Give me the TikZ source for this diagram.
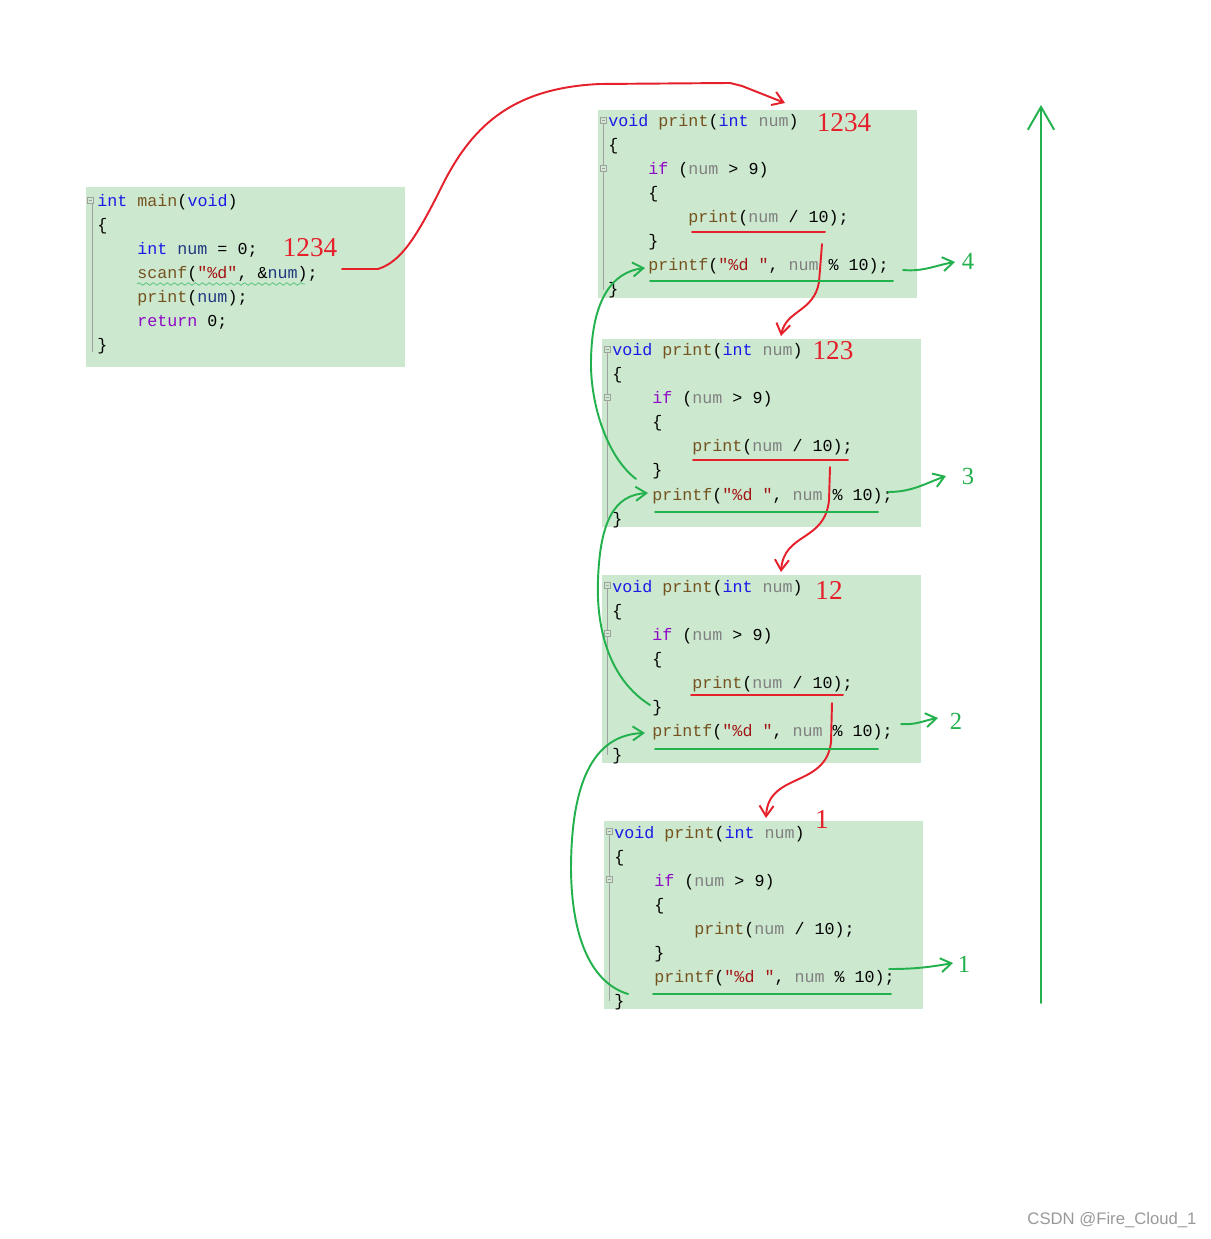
\documentclass[tikz,border=0pt]{standalone}
\usepackage{fontspec}
\setmainfont{Liberation Serif}
\setsansfont{Liberation Sans}
\setmonofont{Liberation Mono}
\usepackage{tikz}
\usetikzlibrary{arrows.meta,decorations.pathmorphing}
\definecolor{CodeBg}{HTML}{CCE8CF}
\definecolor{KeyBlue}{HTML}{1A1AE6}
\definecolor{FuncBrown}{HTML}{74531F}
\definecolor{CtrlPurple}{HTML}{8F08C4}
\definecolor{ParamGray}{HTML}{808080}
\definecolor{VarNavy}{HTML}{1F377F}
\definecolor{StrRed}{HTML}{A31515}
\definecolor{PenRed}{HTML}{E5202A}
\definecolor{PenGreen}{HTML}{22B14C}
\definecolor{MarkGray}{HTML}{A0A0A0}

\newcommand{\kw}[1]{\textcolor{KeyBlue}{#1}}
\newcommand{\fn}[1]{\textcolor{FuncBrown}{#1}}
\newcommand{\ctl}[1]{\textcolor{CtrlPurple}{#1}}
\newcommand{\prm}[1]{\textcolor{ParamGray}{#1}}
\newcommand{\vr}[1]{\textcolor{VarNavy}{#1}}
\newcommand{\strlit}[1]{\textcolor{StrRed}{#1}}

% fold marker of the editor gutter
\newcommand{\foldmark}[2]{%
  \draw[fold, fill=CodeBg] ({#1-3},{#2-3}) rectangle ({#1+3},{#2+3});
  \draw[fold] ({#1-1.5},#2) -- ({#1+1.5},#2);
}

% one call of print(): id, x, y of the top left corner
\newcommand{\callframe}[3]{%
  \node[codebg] (#1) at (#2,#3) {};
  \draw[fold] ({#2+5},{#3+14}) -- ({#2+5},{#3+180});
  \foldmark{#2+5}{#3+10}
  \foldmark{#2+5}{#3+58}
  \node[code] (#1-l1) at ({#2+10},{#3+17}) {\kw{void} \fn{print}(\kw{int} \prm{num})};
  \node[code] (#1-l2) at ({#2+10},{#3+41}) {\{};
  \node[code] (#1-l3) at ({#2+50},{#3+65}) {\ctl{if} (\prm{num} > 9)};
  \node[code] (#1-l4) at ({#2+50},{#3+89}) {\{};
  \node[code] (#1-l5) at ({#2+90},{#3+113}) {\fn{print}(\prm{num} / 10);};
  \node[code] (#1-l6) at ({#2+50},{#3+137}) {\}};
  \node[code] (#1-l7) at ({#2+50},{#3+161}) {\fn{printf}(\strlit{"\%d "}, \prm{num} \% 10);};
  \node[code] (#1-l8) at ({#2+10},{#3+185}) {\}};
}

\begin{document}
\begin{tikzpicture}[
  x=0.02cm, y=-0.02cm,
  codebg/.style={fill=CodeBg, anchor=north west, inner sep=0, minimum width=6.38cm, minimum height=3.76cm},
  code/.style={anchor=base west, inner sep=0, font=\ttfamily\fontsize{9.5}{11}\selectfont},
  fold/.style={draw=MarkGray, line width=0.4pt},
  redpen/.style={draw=PenRed, line width=1.1pt, line cap=round, line join=round},
  greenpen/.style={draw=PenGreen, line width=1.1pt, line cap=round, line join=round},
  tip/.style={-{Straight Barb[length=6pt,width=8pt]}},
  rednum/.style={text=PenRed, font=\fontsize{15.5}{18}\selectfont, inner sep=0},
  greennum/.style={text=PenGreen, font=\fontsize{14}{16}\selectfont, inner sep=0}
]
\path[use as bounding box, fill=white] (0,0) rectangle (1210,1239);

% main()
\node[codebg, minimum height=3.6cm] (mainbox) at (86,187) {};
\draw[fold] (92,204) -- (92,352);
\foldmark{90}{200}
\node[code] (main-l1) at (97,207) {\kw{int} \fn{main}(\kw{void})};
\node[code] (main-l2) at (97,231) {\{};
\node[code] (main-l3) at (137,255) {\kw{int} \vr{num} = 0;};
\node[code] (main-l4) at (137,279) {\fn{scanf}(\strlit{"\%d"}, \&\vr{num});};
\node[code] (main-l5) at (137,303) {\fn{print}(\vr{num});};
\node[code] (main-l6) at (137,327) {\ctl{return} 0;};
\node[code] (main-l7) at (97,351) {\}};
\draw[draw=PenGreen!70, line width=0.5pt, decorate, decoration={snake, segment length=4pt, amplitude=0.7pt}] (137,284) -- (305,284);

% the four calls
\callframe{call1}{598}{110}
\callframe{call2}{602}{339}
\callframe{call3}{602}{575}
\callframe{call4}{604}{821}

% values of num
\node[rednum] (val0) at (310,248) {1234};
\node[rednum] (val1) at (844,123) {1234};
\node[rednum] (val2) at (833,351) {123};
\node[rednum] (val3) at (829,590) {12};
\node[rednum] (val4) at (822,820) {1};

% recursion going down
\coordinate (readEnd) at (342,269);
\coordinate (in1) at (785,103);
\draw[redpen, tip] (readEnd) -- (378,269) .. controls (400,262) and (415,240) .. (440,190)
  .. controls (470,128) and (510,88) .. (600,84) -- (730,83) -- (742,86) -- (in1);

\coordinate (down1) at (822,244);
\coordinate (in2) at (781,336);
\draw[redpen] (692,232) -- (825,232);
\draw[redpen, tip] (down1) -- (819,282) .. controls (814,312) and (786,310) .. (in2);

\coordinate (down2) at (830,467);
\coordinate (in3) at (781,572);
\draw[redpen] (693,460) -- (848,460);
\draw[redpen, tip] (down2) -- (829,500) .. controls (825,542) and (784,532) .. (in3);

\coordinate (down3) at (832,703);
\coordinate (in4) at (766,818);
\draw[redpen] (691,695) -- (843,695);
\draw[redpen, tip] (down3) -- (831,742) .. controls (826,788) and (768,772) .. (in4);

% printing on the way back
\draw[greenpen] (650,281) -- (893,281);
\draw[greenpen] (655,512) -- (878,512);
\draw[greenpen] (655,749) -- (878,749);
\draw[greenpen] (653,994) -- (891,994);

\node[greennum] (out4) at (968,261) {4};
\node[greennum] (out3) at (968,476) {3};
\node[greennum] (out2) at (956,721) {2};
\node[greennum] (out1) at (964,964) {1};

\draw[greenpen, tip] (903,270) to[out=-5, in=190] (955,262);
\draw[greenpen, tip] (888,492) to[out=0, in=200] (946,476);
\draw[greenpen, tip] (901,724) to[out=-5, in=190] (938,718);
\draw[greenpen, tip] (889,969) to[out=0, in=190] (953,963);

\coordinate (back4) at (628,994);
\coordinate (ret3) at (645,733);
\draw[greenpen, tip] (back4) .. controls (598,985) and (572,950) .. (571,870)
  .. controls (571,800) and (585,735) .. (ret3);

\coordinate (back3) at (650,705);
\coordinate (ret2) at (648,493);
\draw[greenpen, tip] (back3) .. controls (610,680) and (596,630) .. (598,580)
  .. controls (600,520) and (615,495) .. (ret2);

\coordinate (back2) at (636,479);
\coordinate (ret1) at (645,268);
\draw[greenpen, tip] (back2) .. controls (605,455) and (590,400) .. (591,360)
  .. controls (592,300) and (612,272) .. (ret1);

% output order
\coordinate (orderLow) at (1041,1003);
\coordinate (orderHigh) at (1041,105);
\draw[greenpen, -{Straight Barb[length=13pt,width=15pt]}] (orderLow) -- (orderHigh);

\node[text=gray!80, font=\sffamily\fontsize{9.5}{11}\selectfont, inner sep=0] (mark) at (1112,1220) {CSDN @Fire\_Cloud\_1};
\end{tikzpicture}
\end{document}
